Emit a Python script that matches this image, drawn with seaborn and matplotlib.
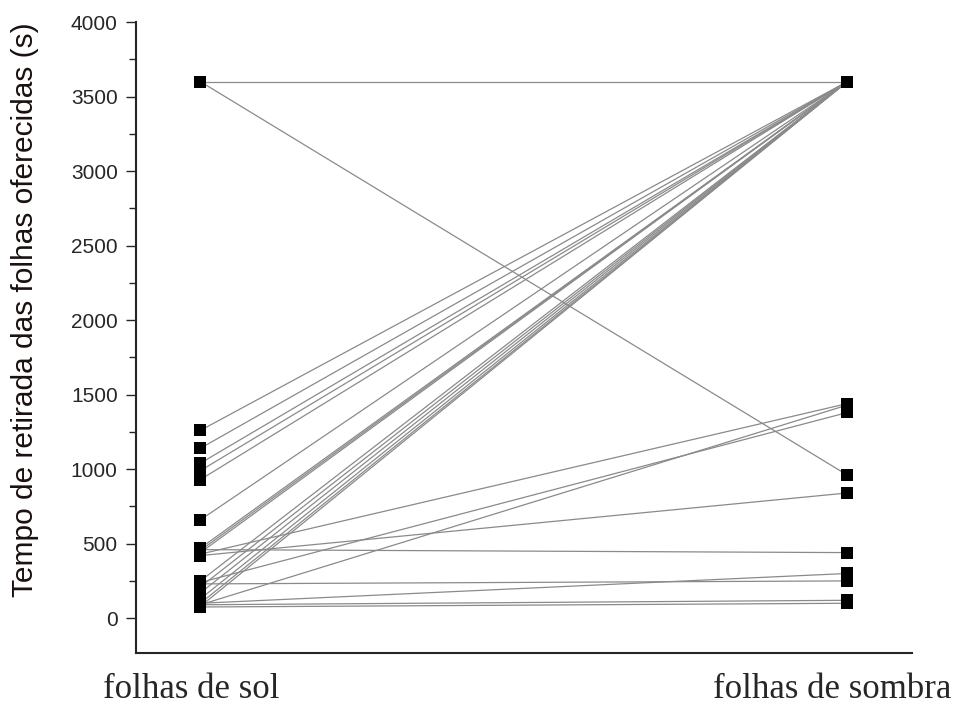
import matplotlib
matplotlib.use('Agg')
import matplotlib.pyplot as plt
from matplotlib.ticker import MultipleLocator
from matplotlib.transforms import ScaledTranslation
import seaborn as sns
import pandas as pd

# Paired values (s): each leaf pair has a sun and a shade time
categories = ['folhas de sol', 'folhas de sombra']
sol = [3600, 3600, 1260, 1140, 1040, 990, 930, 660, 470, 455, 440,
       250, 210, 170, 130, 100, 80, 430, 420, 460, 240, 90, 230, 100, 90, 75]
sombra = [3600, 960, 3600, 3600, 3600, 3600, 3600, 3600, 3600, 3600, 3600,
          3600, 3600, 3600, 3600, 3600, 3600, 1440, 840, 440, 1380, 1430, 250, 300, 120, 100]

rows = []
for i, (a, b) in enumerate(zip(sol, sombra)):
    rows.append({'id': i, 'pos': 0, 'tempo': a})
    rows.append({'id': i, 'pos': 1, 'tempo': b})
df = pd.DataFrame(rows)

sns.set_style('ticks')
fig = plt.figure(figsize=(9.56, 7.10), dpi=100)
ax = fig.add_axes([0.142, 0.080, 0.812, 0.889])

sns.lineplot(data=df, x='pos', y='tempo', units='id', estimator=None,
             color='#8a8a8a', linewidth=0.9, ax=ax, legend=False)
sns.scatterplot(data=df, x='pos', y='tempo', marker='s', color='black',
                s=80, edgecolor='black', linewidth=0, ax=ax, zorder=3, legend=False)

ax.set_xlim(-0.1, 1.1)
ax.set_ylim(-235, 4000)
ax.yaxis.set_major_locator(MultipleLocator(500))
ax.yaxis.set_minor_locator(MultipleLocator(250))
ax.tick_params(axis='y', which='major', length=7, width=1, labelsize=15,
               direction='out', pad=6)
ax.tick_params(axis='y', which='minor', length=5, width=1, direction='out')

ax.set_xticks([0, 1])
ax.set_xticklabels(categories, family='Liberation Serif', fontsize=25)
ax.tick_params(axis='x', length=0, pad=14)
for lab, dx in zip(ax.get_xticklabels(), [-9, -15]):
    lab.set_transform(lab.get_transform() + ScaledTranslation(dx / 100, 0, fig.dpi_scale_trans))

ax.set_xlabel('')
ax.set_ylabel('Tempo de retirada das folhas oferecidas (s)', fontsize=21.5,
              family='Liberation Sans', color='#1a1010', labelpad=24)
ax.yaxis.set_label_coords(-0.125, 0.544)
for lab in ax.get_yticklabels():
    lab.set_family('Liberation Sans')

sns.despine(ax=ax)
ax.spines['left'].set_linewidth(1.5)
ax.spines['bottom'].set_linewidth(1.5)

fig.savefig('out.png', dpi=100)
